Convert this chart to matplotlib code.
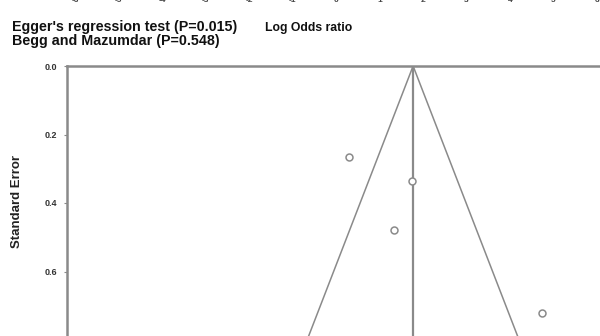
import matplotlib
matplotlib.use("Agg")
import matplotlib.pyplot as plt
import numpy as np

# study estimates (log odds ratio) and their standard errors
log_or = [0.17, 1.10, 0.84, 3.03]
std_err = [0.266, 0.336, 0.479, 0.721]
pooled = 1.12

se_ticks = [0.0, 0.2, 0.4, 0.6, 0.8]
top_ticks = [-6, -5, -4, -3, -2, -1, 0, 1, 2, 3, 4, 5, 6]

plt.rcParams['font.family'] = ['Liberation Sans', 'DejaVu Sans']
fig = plt.figure(figsize=(6.0, 3.36), dpi=100)
W, H = 600.0, 336.0
grey = '#8a8a8a'

# axis row left over from the panel above
ax_top = fig.add_axes([75 / W, (H + 2.5) / H, (597 - 75) / W, 0.01])
ax_top.set_xlim(-6, 6)
ax_top.set_xticks(top_ticks)
ax_top.set_xticklabels([str(t) for t in top_ticks], fontsize=6, fontweight='bold', color='#444')
ax_top.tick_params(axis='x', length=0, pad=0)
ax_top.set_yticks([])
for s in ax_top.spines.values():
    s.set_visible(False)
ax_top.patch.set_visible(False)

# funnel plot, y runs downward from SE=0
se_max = 1.0
left, top = 67, 66
px_unit_x = 67.6
px_unit_y = 342.5
ax = fig.add_axes([left / W, (H - top - px_unit_y * se_max) / H,
                   8 * px_unit_x / W, px_unit_y * se_max / H])
ax.set_xlim(-4, 4)
ax.set_ylim(se_max, 0)

se_line = np.array([0, se_max])
ax.plot(pooled - 1.96 * se_line, se_line, color=grey, lw=1.1)
ax.plot(pooled + 1.96 * se_line, se_line, color=grey, lw=1.1)
ax.plot([pooled, pooled], se_line, color=grey, lw=1.6)
ax.plot(log_or, std_err, 'o', ms=5, mfc='white', mec=grey, mew=1.1, clip_on=False)

ax.set_yticks(se_ticks)
ax.set_yticklabels(['%.1f' % t for t in se_ticks], fontsize=6.5, fontweight='bold', color='#333')
ax.tick_params(axis='y', length=2, width=0.8, color=grey, pad=5)
ax.set_xticks([])
for side in ['right', 'bottom']:
    ax.spines[side].set_visible(False)
for side in ['top', 'left']:
    ax.spines[side].set_color(grey)
    ax.spines[side].set_linewidth(1.8)
ax.set_ylabel('Standard Error', fontsize=9.5, fontweight='bold', color='#222')
ax.yaxis.set_label_coords(-0.082, 1 - (201 - top) / (px_unit_y * se_max))

fig.text(12 / W, 1 - 27 / H, "Egger's regression test (P=0.015)", fontsize=10.3,
         fontweight='bold', color='#111', va='center', ha='left')
fig.text(12 / W, 1 - 41 / H, "Begg and Mazumdar (P=0.548)", fontsize=10.3,
         fontweight='bold', color='#111', va='center', ha='left')
fig.text(265 / W, 1 - 28 / H, "Log Odds ratio", fontsize=8.8,
         fontweight='bold', color='#111', va='center', ha='left')

fig.savefig('out.png', dpi=100)
